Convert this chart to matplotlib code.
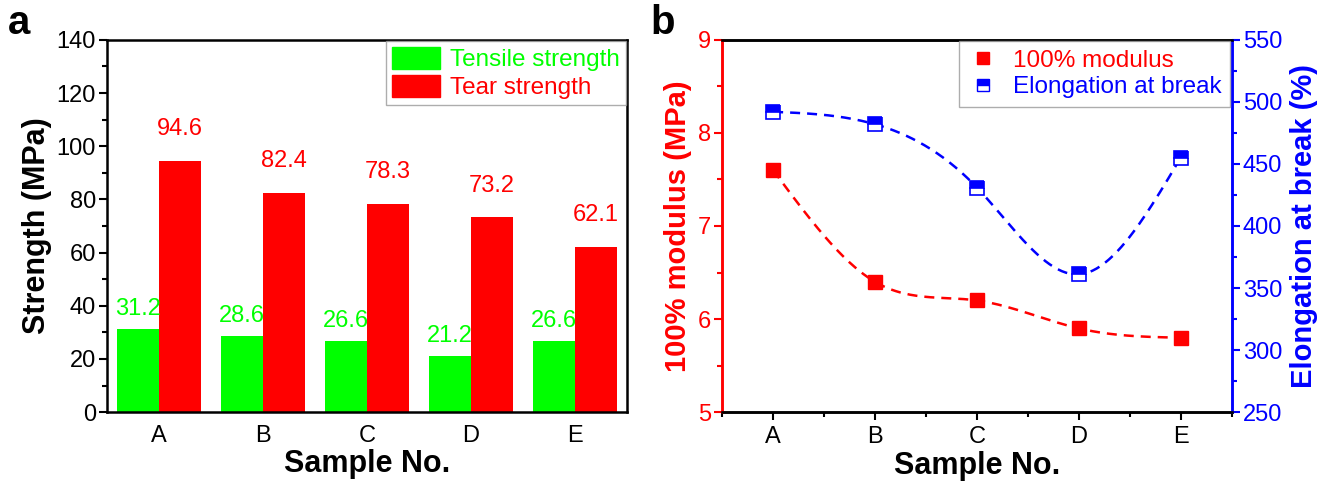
import matplotlib
matplotlib.use("Agg")
import matplotlib.pyplot as plt
import numpy as np
from matplotlib.ticker import MultipleLocator
from matplotlib.patches import Patch
from matplotlib.lines import Line2D

plt.rcParams["font.family"] = ["Liberation Sans", "DejaVu Sans"]

samples = ["A", "B", "C", "D", "E"]
tensile = [31.2, 28.6, 26.6, 21.2, 26.6]
tear = [94.6, 82.4, 78.3, 73.2, 62.1]
modulus = [7.6, 6.4, 6.2, 5.9, 5.8]
elongation = [492, 482, 431, 361, 455]

GREEN, RED, BLUE = "#00ff00", "#ff0000", "#0000ff"
TICK_FS = 17


def natural_spline(x, y, n=200):
    # natural cubic spline, just for the smooth connecting line
    x = np.asarray(x, float); y = np.asarray(y, float)
    k = len(x); h = np.diff(x)
    A = np.zeros((k, k)); r = np.zeros(k)
    A[0, 0] = A[-1, -1] = 1
    for i in range(1, k - 1):
        A[i, i-1] = h[i-1]; A[i, i] = 2*(h[i-1]+h[i]); A[i, i+1] = h[i]
        r[i] = 3*((y[i+1]-y[i])/h[i] - (y[i]-y[i-1])/h[i-1])
    c = np.linalg.solve(A, r)
    xs = np.linspace(x[0], x[-1], n); ys = np.empty_like(xs)
    for j, t in enumerate(xs):
        i = min(np.searchsorted(x, t, side="right") - 1, k - 2)
        b = (y[i+1]-y[i])/h[i] - h[i]*(2*c[i]+c[i+1])/3
        d = (c[i+1]-c[i])/(3*h[i])
        dt = t - x[i]
        ys[j] = y[i] + b*dt + c[i]*dt**2 + d*dt**3
    return xs, ys


fig = plt.figure(figsize=(13.3, 4.86), dpi=100)
a1 = fig.add_axes([0.0805, 0.152, 0.391, 0.766])
a2 = fig.add_axes([0.543, 0.152, 0.383, 0.766])

# ---- panel a
x = np.arange(len(samples))
w = 0.4
a1.bar(x - w/2, tensile, w, color=GREEN)
a1.bar(x + w/2, tear, w, color=RED)
for xi, v in zip(x, tensile):
    a1.text(xi - w/2, v + 7.5, f"{v}", ha="center", va="center", color=GREEN, fontsize=TICK_FS)
for xi, v in zip(x, tear):
    a1.text(xi + w/2, v + 12.0, f"{v}", ha="center", va="center", color=RED, fontsize=TICK_FS)
a1.set_xlim(-0.5, 4.5); a1.set_ylim(0, 140)
a1.set_xticks(x); a1.set_xticklabels(samples)
a1.yaxis.set_major_locator(MultipleLocator(20))
a1.yaxis.set_minor_locator(MultipleLocator(10))
a1.tick_params(axis="x", length=0, labelsize=TICK_FS, pad=9)
a1.tick_params(axis="y", which="major", direction="out", length=6, width=1.5, labelsize=TICK_FS, pad=2)
a1.tick_params(axis="y", which="minor", direction="out", length=3.5, width=1.5)
for s in a1.spines.values(): s.set_linewidth(1.8)
a1.set_ylabel("Strength (MPa)", fontsize=22, fontweight="bold", labelpad=3)
a1.set_xlabel("Sample No.", fontsize=22, fontweight="bold", labelpad=2)
h1 = [Patch(color=GREEN), Patch(color=RED)]
leg1 = a1.legend(h1, ["Tensile strength", "Tear strength"], loc="upper right", fontsize=17.5,
                 frameon=True, fancybox=False, edgecolor="#999999", borderaxespad=0.05,
                 handlelength=2.0, handleheight=1.0, handletextpad=0.4, labelspacing=0.15,
                 borderpad=0.25)
for t, c in zip(leg1.get_texts(), [GREEN, RED]): t.set_color(c)
fig.text(0.006, 0.952, "a", fontsize=29, fontweight="bold", va="center")

# ---- panel b
b2 = a2.twinx()
xs, ys = natural_spline(x, modulus)
a2.plot(xs, ys, ls=(0, (4, 2.8)), color=RED, lw=1.8)
a2.plot(x, modulus, "s", color=RED, ms=10, ls="none")
xs, ys = natural_spline(x, elongation)
b2.plot(xs, ys, ls=(0, (4, 2.8)), color=BLUE, lw=1.8)
b2.plot(x, elongation, "s", ms=10, ls="none", color=BLUE, mec=BLUE, mew=1.2,
        fillstyle="top", markerfacecoloralt="white")
a2.set_xlim(-0.5, 4.5); a2.set_ylim(5, 9); b2.set_ylim(250, 550)
a2.set_xticks(x); a2.set_xticklabels(samples)
a2.xaxis.set_minor_locator(MultipleLocator(0.5))
a2.yaxis.set_major_locator(MultipleLocator(1))
a2.yaxis.set_minor_locator(MultipleLocator(0.5))
b2.yaxis.set_major_locator(MultipleLocator(50))
b2.yaxis.set_minor_locator(MultipleLocator(25))
a2.tick_params(axis="x", which="major", direction="out", length=6, width=1.5, labelsize=TICK_FS, pad=4)
a2.tick_params(axis="x", which="minor", direction="out", length=3.5, width=1.5)
a2.tick_params(axis="y", which="major", direction="out", length=6, width=1.5, labelsize=TICK_FS,
               colors=RED, pad=2)
a2.tick_params(axis="y", which="minor", direction="out", length=3.5, width=1.5, colors=RED)
b2.tick_params(axis="y", which="major", direction="out", length=6, width=1.5, labelsize=TICK_FS,
               colors=BLUE, pad=2)
b2.tick_params(axis="y", which="minor", direction="out", length=3.5, width=1.5, colors=BLUE)
for ax in (a2, b2):
    for s in ax.spines.values(): s.set_linewidth(1.8)
    ax.spines["left"].set_color(RED)
    ax.spines["right"].set_color(BLUE)
a2.set_ylabel("100% modulus (MPa)", fontsize=21, fontweight="bold", color=RED, labelpad=4)
b2.set_ylabel("Elongation at break (%)", fontsize=21, fontweight="bold", color=BLUE, labelpad=6)
a2.set_xlabel("Sample No.", fontsize=22, fontweight="bold", labelpad=2)
h2 = [Line2D([], [], marker="s", ls="none", color=RED, ms=9),
      Line2D([], [], marker="s", ls="none", color=BLUE, mec=BLUE, ms=9,
             fillstyle="top", markerfacecoloralt="white")]
leg2 = b2.legend(h2, ["100% modulus", "Elongation at break"], loc="upper right", fontsize=17.5,
                 frameon=True, fancybox=False, edgecolor="#999999", borderaxespad=0.05,
                 handlelength=1.3, handletextpad=0.6, labelspacing=0.2, borderpad=0.35)
for t, c in zip(leg2.get_texts(), [RED, BLUE]): t.set_color(c)
fig.text(0.489, 0.952, "b", fontsize=29, fontweight="bold", va="center")

fig.savefig("out.png", dpi=100)
